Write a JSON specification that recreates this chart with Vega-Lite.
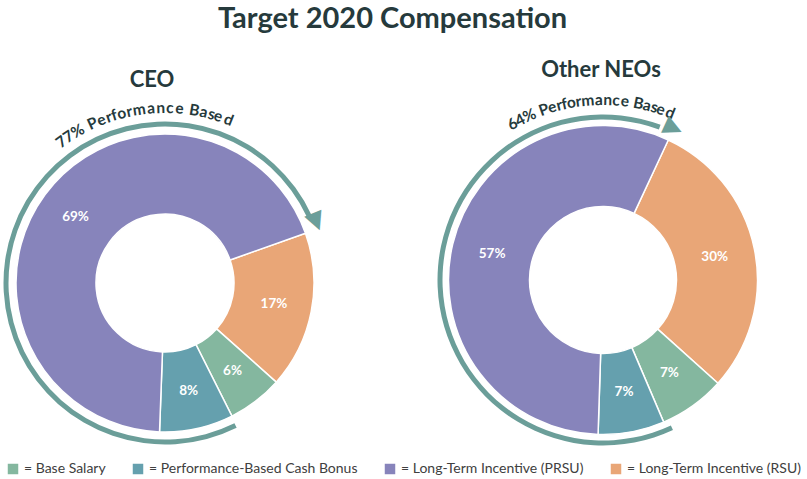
{
  "$schema": "https://vega.github.io/schema/vega-lite/v6.json",
  "padding": {"left": 0, "right": 0, "top": 4, "bottom": 0},
  "background": "white",
  "title": {"text": "Target 2020 Compensation", "fontSize": 29, "font": "Lato", "fontWeight": "bold", "color": "#263a3c", "anchor": "middle", "offset": 25, "dx": -11},
  "config": {"view": {"stroke": null}, "font": "Lato"},
  "spacing": 105,
  "resolve": {"scale": {"theta": "independent", "angle": "independent"}},
  "hconcat": [
    {
      "width": 330,
      "height": 320,
      "title": {"text": "CEO", "fontSize": 22, "fontWeight": "bold", "font": "Lato", "color": "#263a3c", "baseline": "bottom", "offset": -13, "dx": -13},
      "layer": [
        {
          "data": {"values": [{"t1": 0.231, "t2": 0.985}]},
          "mark": {"type": "arc", "radius": 161.5, "radius2": 156.5, "color": "#6b9e99"},
          "encoding": {
            "theta": {"field": "t1", "type": "quantitative", "scale": {"domain": [0, 1], "range": [1.2305, 7.5137]}},
            "theta2": {"field": "t2"}
          }
        },
        {
          "data": {"values": [
            {"cat": "Long-Term Incentive (RSU)", "pct": 0.17, "k": 1},
            {"cat": "Base Salary", "pct": 0.06, "k": 2},
            {"cat": "Performance-Based Cash Bonus", "pct": 0.08, "k": 3},
            {"cat": "Long-Term Incentive (PRSU)", "pct": 0.69, "k": 4}
          ]},
          "mark": {"type": "arc", "radius": 149, "radius2": 69, "stroke": "white", "strokeWidth": 1.5},
          "encoding": {
            "theta": {"field": "pct", "type": "quantitative", "stack": true, "scale": {"domain": [0, 1], "range": [1.2305, 7.5137]}},
            "order": {"field": "k", "type": "quantitative"},
            "color": {
              "field": "cat", "type": "nominal",
              "scale": {"domain": ["Base Salary", "Performance-Based Cash Bonus", "Long-Term Incentive (PRSU)", "Long-Term Incentive (RSU)"], "range": ["#84b79f", "#65a0ae", "#8784bb", "#e9a677"]},
              "legend": {"title": null, "orient": "bottom", "direction": "horizontal", "symbolType": "square", "symbolSize": 110, "symbolStrokeWidth": 0, "labelFontSize": 14, "labelFont": "Lato", "labelColor": "#404040", "labelLimit": 320, "columnPadding": 25, "offset": 10, "padding": 6, "labelExpr": "'= ' + datum.label"}
            }
          }
        },
        {
          "data": {"values": [
            {"cat": "Long-Term Incentive (RSU)", "pct": 0.17, "k": 1},
            {"cat": "Base Salary", "pct": 0.06, "k": 2},
            {"cat": "Performance-Based Cash Bonus", "pct": 0.08, "k": 3},
            {"cat": "Long-Term Incentive (PRSU)", "pct": 0.69, "k": 4}
          ]},
          "mark": {"type": "text", "radius": 111, "color": "white", "fontWeight": "bold", "fontSize": 13.5, "font": "Lato", "align": "center", "baseline": "middle"},
          "encoding": {
            "theta": {"field": "pct", "type": "quantitative", "stack": true},
            "order": {"field": "k", "type": "quantitative"},
            "detail": {"field": "cat", "type": "nominal"},
            "text": {"field": "pct", "type": "quantitative", "format": ".0%"}
          }
        },
        {
          "data": {"values": [
            {"ch": "7", "t": 0.7033}, {"ch": "7", "t": 0.7113}, {"ch": "%", "t": 0.7212},
            {"ch": "P", "t": 0.7363}, {"ch": "e", "t": 0.7449}, {"ch": "r", "t": 0.7521}, {"ch": "f", "t": 0.7573},
            {"ch": "o", "t": 0.7643}, {"ch": "r", "t": 0.7714}, {"ch": "m", "t": 0.7806}, {"ch": "a", "t": 0.7915},
            {"ch": "n", "t": 0.8002}, {"ch": "c", "t": 0.8086}, {"ch": "e", "t": 0.8173},
            {"ch": "B", "t": 0.8309}, {"ch": "a", "t": 0.8396}, {"ch": "s", "t": 0.8470}, {"ch": "e", "t": 0.8534}, {"ch": "d", "t": 0.8633}
          ]},
          "mark": {"type": "text", "radius": 175, "fontSize": 15.5, "font": "Lato", "fontWeight": "bold", "color": "#263a3c", "align": "center", "baseline": "middle"},
          "encoding": {
            "theta": {"field": "t", "type": "quantitative", "stack": false},
            "angle": {"field": "t", "type": "quantitative", "scale": {"domain": [0, 1], "range": [70.5, 430.5]}},
            "text": {"field": "ch", "type": "nominal"}
          }
        },
        {
          "data": {"values": [{"t": 0.993}]},
          "mark": {"type": "text", "text": "▶", "radius": 164, "fontSize": 24, "font": "DejaVu Sans", "color": "#6b9e99", "align": "center", "baseline": "middle"},
          "encoding": {
            "theta": {"field": "t", "type": "quantitative", "stack": false},
            "angle": {"field": "t", "type": "quantitative", "scale": {"domain": [0, 1], "range": [70.5, 430.5]}}
          }
        }
      ]
    },
    {
      "width": 330,
      "height": 314,
      "title": {"text": "Other NEOs", "fontSize": 22, "fontWeight": "bold", "font": "Lato", "color": "#263a3c", "baseline": "bottom", "offset": -11, "dx": -2},
      "layer": [
        {
          "data": {"values": [{"t1": 0.3647, "t2": 0.997}]},
          "mark": {"type": "arc", "radius": 165.5, "radius2": 160.5, "color": "#6b9e99"},
          "encoding": {
            "theta": {"field": "t1", "type": "quantitative", "scale": {"domain": [0, 1.01], "range": [0.4363, 6.7195]}},
            "theta2": {"field": "t2"}
          }
        },
        {
          "data": {"values": [
            {"cat": "Long-Term Incentive (RSU)", "pct": 0.30, "k": 1},
            {"cat": "Base Salary", "pct": 0.07, "k": 2},
            {"cat": "Performance-Based Cash Bonus", "pct": 0.07, "k": 3},
            {"cat": "Long-Term Incentive (PRSU)", "pct": 0.57, "k": 4}
          ]},
          "mark": {"type": "arc", "radius": 154.5, "radius2": 73.5, "stroke": "white", "strokeWidth": 1.5},
          "encoding": {
            "theta": {"field": "pct", "type": "quantitative", "stack": true, "scale": {"domain": [0, 1.01], "range": [0.4363, 6.7195]}},
            "order": {"field": "k", "type": "quantitative"},
            "color": {
              "field": "cat", "type": "nominal",
              "scale": {"domain": ["Base Salary", "Performance-Based Cash Bonus", "Long-Term Incentive (PRSU)", "Long-Term Incentive (RSU)"], "range": ["#84b79f", "#65a0ae", "#8784bb", "#e9a677"]},
              "legend": {"title": null, "orient": "bottom", "direction": "horizontal", "symbolType": "square", "symbolSize": 110, "symbolStrokeWidth": 0, "labelFontSize": 14, "labelFont": "Lato", "labelColor": "#404040", "labelLimit": 320, "columnPadding": 25, "offset": 10, "padding": 6, "labelExpr": "'= ' + datum.label"}
            }
          }
        },
        {
          "data": {"values": [
            {"cat": "Long-Term Incentive (RSU)", "pct": 0.30, "k": 1},
            {"cat": "Base Salary", "pct": 0.07, "k": 2},
            {"cat": "Performance-Based Cash Bonus", "pct": 0.07, "k": 3},
            {"cat": "Long-Term Incentive (PRSU)", "pct": 0.57, "k": 4}
          ]},
          "mark": {"type": "text", "radius": 114, "color": "white", "fontWeight": "bold", "fontSize": 13.5, "font": "Lato", "align": "center", "baseline": "middle"},
          "encoding": {
            "theta": {"field": "pct", "type": "quantitative", "stack": true},
            "order": {"field": "k", "type": "quantitative"},
            "detail": {"field": "cat", "type": "nominal"},
            "text": {"field": "pct", "type": "quantitative", "format": ".0%"}
          }
        },
        {
          "data": {"values": [
            {"ch": "6", "t": 0.8554}, {"ch": "4", "t": 0.8630}, {"ch": "%", "t": 0.8723},
            {"ch": "P", "t": 0.8860}, {"ch": "e", "t": 0.8938}, {"ch": "r", "t": 0.9004}, {"ch": "f", "t": 0.9051},
            {"ch": "o", "t": 0.9114}, {"ch": "r", "t": 0.9179}, {"ch": "m", "t": 0.9262}, {"ch": "a", "t": 0.9361},
            {"ch": "n", "t": 0.9440}, {"ch": "c", "t": 0.9516}, {"ch": "e", "t": 0.9595},
            {"ch": "B", "t": 0.9718}, {"ch": "a", "t": 0.9797}, {"ch": "s", "t": 0.9865}, {"ch": "e", "t": 0.9923}, {"ch": "d", "t": 1.0013}
          ]},
          "mark": {"type": "text", "radius": 180, "fontSize": 15.5, "font": "Lato", "fontWeight": "bold", "color": "#263a3c", "align": "center", "baseline": "middle"},
          "encoding": {
            "theta": {"field": "t", "type": "quantitative", "stack": false},
            "angle": {"field": "t", "type": "quantitative", "scale": {"domain": [0, 1.01], "range": [25, 385]}},
            "text": {"field": "ch", "type": "nominal"}
          }
        },
        {
          "data": {"values": [{"t": 1.0095}]},
          "mark": {"type": "text", "text": "▶", "radius": 168, "fontSize": 24, "font": "DejaVu Sans", "color": "#6b9e99", "align": "center", "baseline": "middle"},
          "encoding": {
            "theta": {"field": "t", "type": "quantitative", "stack": false},
            "angle": {"field": "t", "type": "quantitative", "scale": {"domain": [0, 1.01], "range": [25, 385]}}
          }
        }
      ]
    }
  ]
}
